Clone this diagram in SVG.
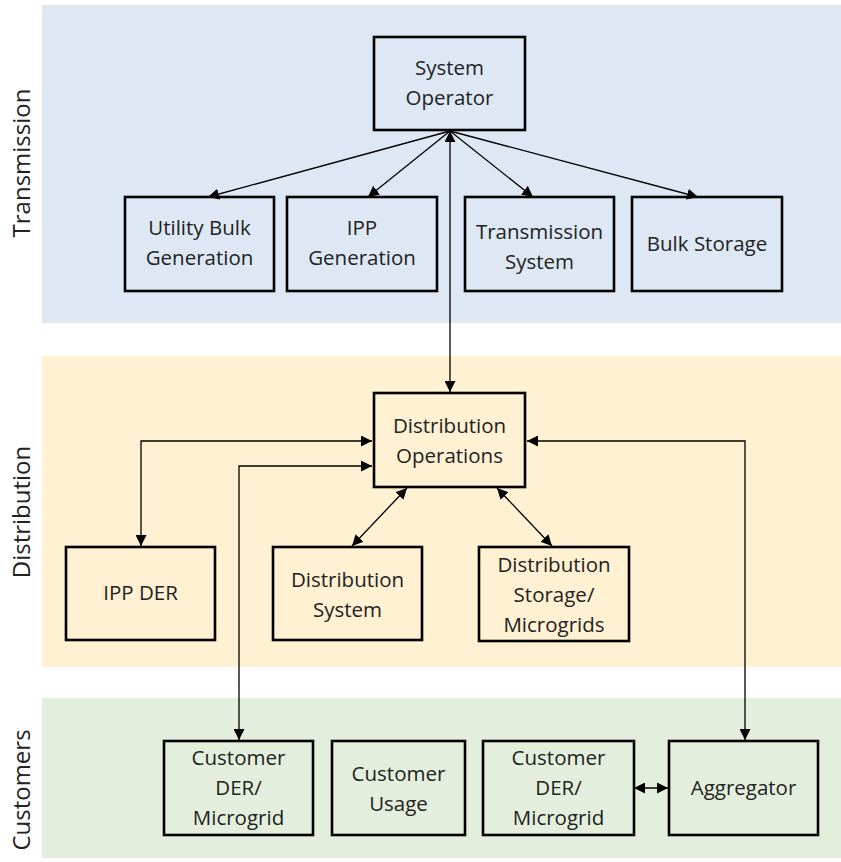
<svg xmlns="http://www.w3.org/2000/svg" width="841" height="862" viewBox="0 0 841 862">
<style>
.node rect{fill:none;stroke:#000;stroke-width:2.6}
.node text{font-family:"Open Sans","Liberation Sans",sans-serif;font-size:20.5px;fill:#222;text-anchor:middle}
.band text{font-family:"Open Sans","Liberation Sans",sans-serif;font-size:24px;fill:#222;text-anchor:middle}
.conn line,.conn polyline{fill:none;stroke:#000;stroke-width:1.3}
</style>
<defs>
<marker id="ah" viewBox="0 0 10 10" refX="10" refY="5" markerWidth="11" markerHeight="11" markerUnits="userSpaceOnUse" orient="auto-start-reverse">
<path d="M0,0 L10,5 L0,10 z" fill="#000"/>
</marker>
</defs>
<rect width="841" height="862" fill="#fff"/>
<g class="band" id="band-transmission">
<rect x="42" y="5" width="799" height="318" fill="#dee8f4"/>
<text transform="translate(30,163) rotate(-90)">Transmission</text>
</g>
<g class="band" id="band-distribution">
<rect x="42" y="356" width="799" height="311" fill="#fff1d2"/>
<text transform="translate(30,512) rotate(-90)">Distribution</text>
</g>
<g class="band" id="band-customers">
<rect x="42" y="698" width="799" height="160" fill="#e3efdc"/>
<text transform="translate(30,790) rotate(-90)">Customers</text>
</g>
<g class="conn" id="connectors">
<line x1="450" y1="131" x2="208" y2="197" marker-end="url(#ah)"/>
<line x1="450" y1="131" x2="368" y2="197" marker-end="url(#ah)"/>
<line x1="450" y1="131" x2="533" y2="197" marker-end="url(#ah)"/>
<line x1="450" y1="131" x2="698" y2="197" marker-end="url(#ah)"/>
<line x1="450" y1="131" x2="450" y2="392" marker-start="url(#ah)" marker-end="url(#ah)"/>
<polyline points="372,441 141,441 141,546" marker-start="url(#ah)" marker-end="url(#ah)"/>
<polyline points="372,466 239,466 239,740" marker-start="url(#ah)" marker-end="url(#ah)"/>
<polyline points="527,441 745,441 745,740" marker-start="url(#ah)" marker-end="url(#ah)"/>
<line x1="407" y1="488" x2="352" y2="546" marker-start="url(#ah)" marker-end="url(#ah)"/>
<line x1="497" y1="488" x2="552" y2="546" marker-start="url(#ah)" marker-end="url(#ah)"/>
<line x1="634" y1="788" x2="668" y2="788" marker-start="url(#ah)" marker-end="url(#ah)"/>
</g>
<g class="node" id="system-operator"><rect x="374" y="37" width="151" height="93"/><text x="449.5" y="75">System</text><text x="449.5" y="105">Operator</text></g>
<g class="node" id="utility-bulk-generation"><rect x="125" y="197" width="149" height="94"/><text x="199.5" y="235">Utility Bulk</text><text x="199.5" y="265">Generation</text></g>
<g class="node" id="ipp-generation"><rect x="287" y="197" width="150" height="94"/><text x="362" y="235">IPP</text><text x="362" y="265">Generation</text></g>
<g class="node" id="transmission-system"><rect x="465" y="197" width="149" height="94"/><text x="539.5" y="239">Transmission</text><text x="539.5" y="269">System</text></g>
<g class="node" id="bulk-storage"><rect x="632" y="197" width="150" height="94"/><text x="707" y="251">Bulk Storage</text></g>
<g class="node" id="distribution-operations"><rect x="374" y="393" width="151" height="94"/><text x="449.5" y="433">Distribution</text><text x="449.5" y="463">Operations</text></g>
<g class="node" id="ipp-der"><rect x="66" y="547" width="149" height="93"/><text x="140.5" y="600">IPP DER</text></g>
<g class="node" id="distribution-system"><rect x="273" y="547" width="149" height="93"/><text x="347.5" y="587">Distribution</text><text x="347.5" y="617">System</text></g>
<g class="node" id="distribution-storage"><rect x="479" y="547" width="150" height="94"/><text x="554" y="572">Distribution</text><text x="554" y="602">Storage/</text><text x="554" y="632">Microgrids</text></g>
<g class="node" id="customer-der-1"><rect x="164" y="741" width="149" height="94"/><text x="238.5" y="765">Customer</text><text x="238.5" y="795">DER/</text><text x="238.5" y="825">Microgrid</text></g>
<g class="node" id="customer-usage"><rect x="332" y="741" width="133" height="94"/><text x="398.5" y="781">Customer</text><text x="398.5" y="811">Usage</text></g>
<g class="node" id="customer-der-2"><rect x="483" y="741" width="151" height="94"/><text x="558.5" y="765">Customer</text><text x="558.5" y="795">DER/</text><text x="558.5" y="825">Microgrid</text></g>
<g class="node" id="aggregator"><rect x="669" y="741" width="149" height="94"/><text x="743.5" y="795">Aggregator</text></g>
</svg>
